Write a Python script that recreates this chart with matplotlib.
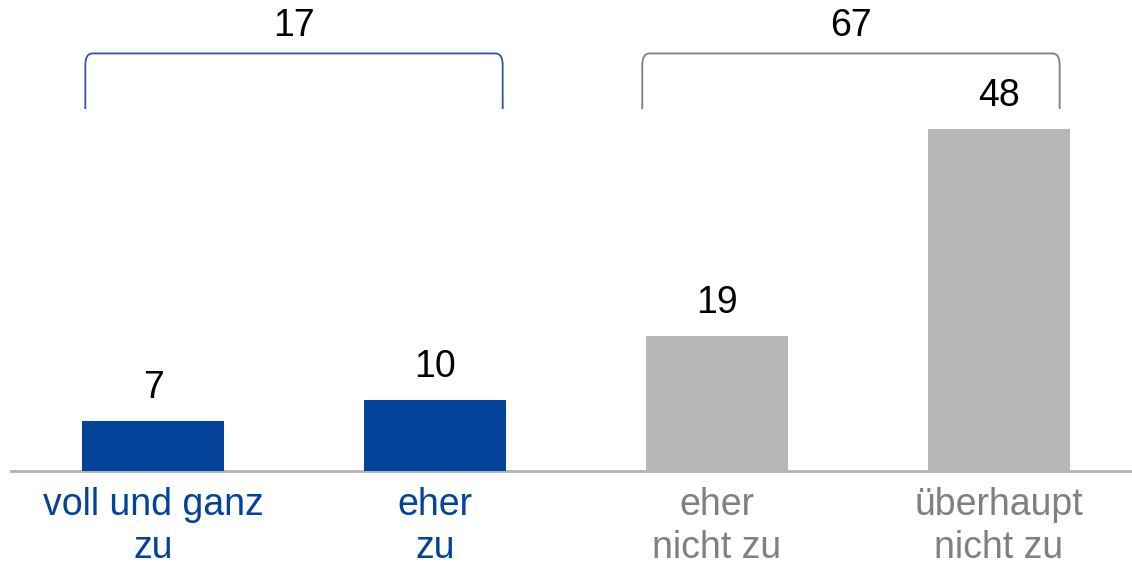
import matplotlib.pyplot as plt
from matplotlib.path import Path
from matplotlib.patches import PathPatch

plt.rcParams['font.family'] = ['Liberation Sans', 'DejaVu Sans']

# data
categories = ['voll und ganz\nzu', 'eher\nzu', 'eher\nnicht zu', 'überhaupt\nnicht zu']
values = [7, 10, 19, 48]
group_totals = [17, 67]
groups = [(0, 1), (2, 3)]

blue = '#03449A'
grey = '#B7B7B7'
bar_colors = [blue, blue, grey, grey]
label_colors = [blue, blue, '#808080', '#808080']
bracket_colors = ['#2F57A0', '#7F7F7F']

fig = plt.figure(figsize=(11.32, 5.64), dpi=100)
ax = fig.add_axes([0, 0, 1, 1])
ax.set_xlim(-0.5426, 3.4716)
ax.set_ylim(-13.05, 66.1)
ax.axis('off')

x = list(range(len(values)))
ax.bar(x, values, width=0.504, color=bar_colors, zorder=2)
ax.axhline(0, xmin=0.01, xmax=1, color='#B3B3B3', lw=2, zorder=1)

fs = 27
for xi, v in zip(x, values):
    ax.text(xi, v + 4.6, str(v), ha='center', va='center', fontsize=fs, color='black')

for xi, cat, c in zip(x, categories, label_colors):
    lines = cat.split('\n')
    ax.text(xi, -4.7, lines[0], ha='center', va='center', fontsize=fs, color=c)
    ax.text(xi, -10.8, lines[1], ha='center', va='center', fontsize=fs, color=c)

# brackets
for (a, b), total, c, shift in zip(groups, group_totals, bracket_colors, [0, -0.025]):
    x0, x1 = a - 0.24 + shift, b + 0.24 + shift
    y0, y1 = 50.8, 58.6
    rx, ry = 0.025, 1.6
    verts = [(x0, y0), (x0, y1 - ry), (x0, y1), (x0 + rx, y1),
             (x1 - rx, y1), (x1, y1), (x1, y1 - ry), (x1, y0)]
    codes = [Path.MOVETO, Path.LINETO, Path.CURVE3, Path.CURVE3,
             Path.LINETO, Path.CURVE3, Path.CURVE3, Path.LINETO]
    ax.add_patch(PathPatch(Path(verts, codes), fill=False, edgecolor=c, lw=1.3))
    ax.text((x0 + x1) / 2, 62.5, str(total), ha='center', va='center', fontsize=fs, color='black')

fig.savefig('out.png', dpi=100)
